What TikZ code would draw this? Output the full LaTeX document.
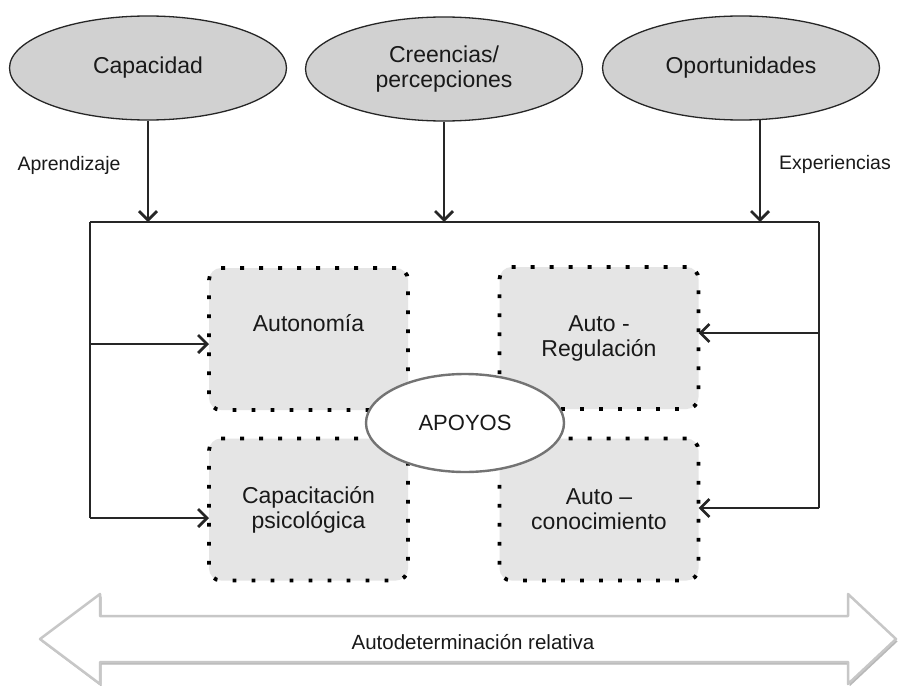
\documentclass[tikz,border=0pt]{standalone}
\usepackage{fontspec}
\setmainfont{Liberation Sans}
\usetikzlibrary{arrows.meta,shapes.geometric,calc}
\begin{document}
\begin{tikzpicture}[x=1pt,y=-1pt,
  topell/.style={ellipse, draw=black!85, line width=1.3pt, fill=black!18,
    minimum width=277pt, minimum height=104pt, inner sep=0pt,
    font=\fontsize{23}{25}\selectfont, align=center, text=black!90},
  dotbox/.style={draw=black, fill=black!10, rounded corners=12pt, line width=3.8pt,
    dash pattern=on 3.8pt off 15.2pt, minimum width=199pt, minimum height=142pt,
    inner sep=0pt, outer sep=0pt, font=\fontsize{23}{25}\selectfont, align=center, text=black!90},
  midell/.style={ellipse, draw=black!55, line width=2.4pt, fill=white,
    minimum width=198pt, minimum height=98pt, inner sep=0pt,
    font=\fontsize{22}{24}\selectfont, text=black!90},
  conn/.style={draw=black!85, line width=1.6pt},
  arr/.style={conn, -{Straight Barb[length=9pt,width=18pt,line width=2.8pt]}},
  lbl/.style={font=\fontsize{19.5}{22}\selectfont, text=black!90, inner sep=0pt},
  bigarrow/.style={draw=black!22, line width=2.5pt, fill=white, line join=round}
]
\useasboundingbox (0,0) rectangle (899,685);
\fill[white] (0,0) rectangle (899,685);

% top ellipses
\node[topell] (cap) at (148,68) {Capacidad};
\node[topell] (cre) at (444,69) {Creencias/\\percepciones};
\node[topell] (opo) at (741,68) {Oportunidades};

% frame lines
\coordinate (tl) at (90,222);
\coordinate (tr) at (819,222);
\coordinate (l1) at (90,344);
\coordinate (l2) at (90,518);
\coordinate (r1) at (819,333);
\coordinate (r2) at (819,508);
\coordinate (opx) at (760,120);

\draw[conn] (tl) -- (tr);
\draw[conn] (tl) -- (l2);
\draw[conn] (tr) -- (r2);

% down arrows
\draw[arr] (cap.south) -- (cap.south |- tl);
\draw[arr] (cre.south) -- (cre.south |- tl);
\draw[arr] (opx) -- (opx |- tr);

\node[lbl] (apr) at (69,165) {Aprendizaje};
\node[lbl] (exp) at (835,164) {Experiencias};

% dotted boxes
\node[dotbox] (aut) at (308.5,339) {Autonomía\\[6pt]};
\node[dotbox] (reg) at (599,338) {Auto -\\Regulación};
\node[dotbox] (psi) at (308.5,509.5) {Capacitación\\psicológica};
\node[dotbox] (con) at (599,509.5) {Auto –\\conocimiento};

% side arrows
\draw[arr] (l1) -- (l1 -| aut.west);
\draw[arr] (l2) -- (l2 -| psi.west);
\draw[arr] (r1) -- (r1 -| reg.east);
\draw[arr] (r2) -- (r2 -| con.east);

% APOYOS
\node[midell] (apo) at (465,423) {APOYOS};

% big double arrow
\path[fill=black!28, xshift=1.5pt, yshift=-2.5pt]
  (40,639) -- (100,594) -- (100,616) -- (848,616) -- (848,594) -- (896,639)
  -- (848,684) -- (848,662) -- (100,662) -- (100,684) -- cycle;
\path[bigarrow]
  (40,639) -- (100,594) -- (100,616) -- (848,616) -- (848,594) -- (896,639)
  -- (848,684) -- (848,662) -- (100,662) -- (100,684) -- cycle;
\node[font=\fontsize{20.5}{23}\selectfont, text=black!90] (ad) at (473,642) {Autodeterminación relativa};
\end{tikzpicture}
\end{document}
